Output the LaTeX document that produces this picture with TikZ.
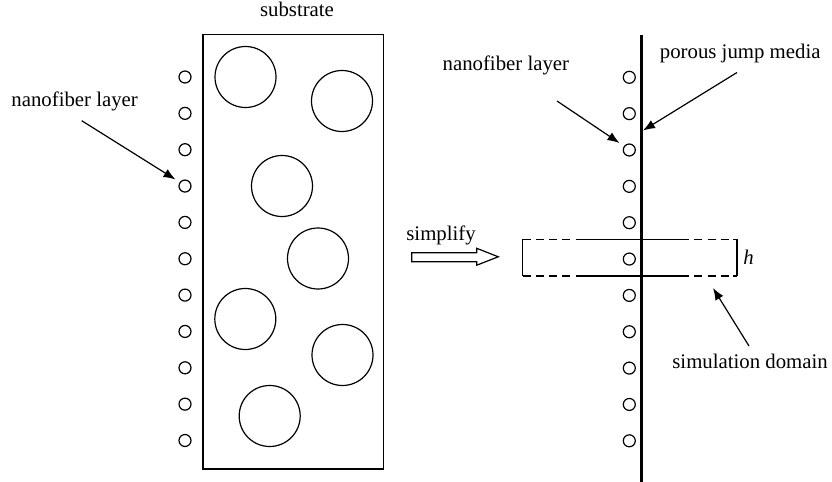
\documentclass[tikz,border=0pt]{standalone}
\usepackage{fontspec}
\setmainfont{Liberation Serif}
\usetikzlibrary{arrows.meta}
\begin{document}
\begin{tikzpicture}[x=0.5pt,y=-0.5pt,
  every node/.style={font=\fontsize{10.4pt}{12pt}\selectfont, inner sep=0pt},
  thin line/.style={line width=0.6pt, draw=black},
  small/.style={circle, draw, line width=0.6pt, minimum size=6pt, inner sep=0pt},
  big/.style={circle, draw, line width=0.6pt, minimum size=30.5pt, inner sep=0pt},
  pointer/.style={line width=0.6pt, -{Latex[length=6pt,width=4.6pt]}},
  dash line/.style={line width=0.6pt, dash pattern=on 4pt off 2.6pt}]
\useasboundingbox (0,0) rectangle (832,482);

% substrate box
\draw[line width=0.75pt] (203,34.5) rectangle (383.5,469);
\node[anchor=base] (sublabel) at (297,17) {substrate};

% big circles
\node[big] (b1) at (245.5,77) {};
\node[big] (b2) at (342,101) {};
\node[big] (b3) at (282,186) {};
\node[big] (b4) at (318,258.5) {};
\node[big] (b5) at (245.3,319) {};
\node[big] (b6) at (342.5,355) {};
\node[big] (b7) at (269.7,416) {};

% left nanofiber circles
\foreach \i in {0,...,10} {
  \node[small] (l\i) at (185,77+36.35*\i) {};
}
% right nanofiber circles
\foreach \i in {0,...,10} {
  \node[small] (r\i) at (629.3,77.3+36.35*\i) {};
}

% porous jump media line
\coordinate (ptop) at (641.5,35);
\coordinate (pbot) at (641.5,482);
\draw[line width=1.7pt] (ptop) -- (pbot);

% left label
\node[anchor=base west] (lnl) at (11,106) {nanofiber layer};
\coordinate (la) at (81.7,120.7);
\coordinate (lb) at (175.5,179.5);
\draw[pointer] (la) -- (lb);

% right labels
\node[anchor=base east] (rnl) at (569.5,70) {nanofiber layer};
\coordinate (ra) at (557,101);
\coordinate (rb) at (619.5,143);
\draw[pointer] (ra) -- (rb);

\node[anchor=base west] (pjm) at (659.5,58) {porous jump media};
\coordinate (pa) at (737,72.5);
\coordinate (pb) at (643,130.5);
\draw[pointer] (pa) -- (pb);

% simplify arrow
\node[anchor=base west] (simp) at (406,240) {simplify};
\draw[line width=0.6pt] (411.7,252.7) -- (476.7,252.7) -- (476.7,248.3) -- (498.3,256.8)
  -- (476.7,265.2) -- (476.7,261.7) -- (411.7,261.7) -- cycle;

% simulation domain
\coordinate (dtl) at (522.7,239.3);
\coordinate (dbl) at (522.7,276);
\coordinate (dtr) at (737,239.3);
\coordinate (dbr) at (737,276);
\draw[thin line] (dtl) -- (dbl);
\draw[thin line] (dtr) -- (dbr);
\draw[dash line] (dtl) -- (dtr);
\draw[dash line] (dbl) -- (dbr);
\draw[thin line] (580,239.3) -- (683.5,239.3);
\draw[thin line] (580,276) -- (683.5,276);
\draw[thin line] (dtl) -- ++(4,0);
\draw[thin line] (dbl) -- ++(4,0);
\draw[thin line] (dtr) -- ++(-4,0);
\draw[thin line] (dbr) -- ++(-4,0);
\node[anchor=base west, font=\fontsize{10.4pt}{12pt}\selectfont\itshape] (hl) at (743,264) {h};

\node[anchor=base west] (sd) at (672,368) {simulation domain};
\coordinate (sa) at (749,346);
\coordinate (sb) at (713,288);
\draw[pointer] (sa) -- (sb);
\end{tikzpicture}
\end{document}
